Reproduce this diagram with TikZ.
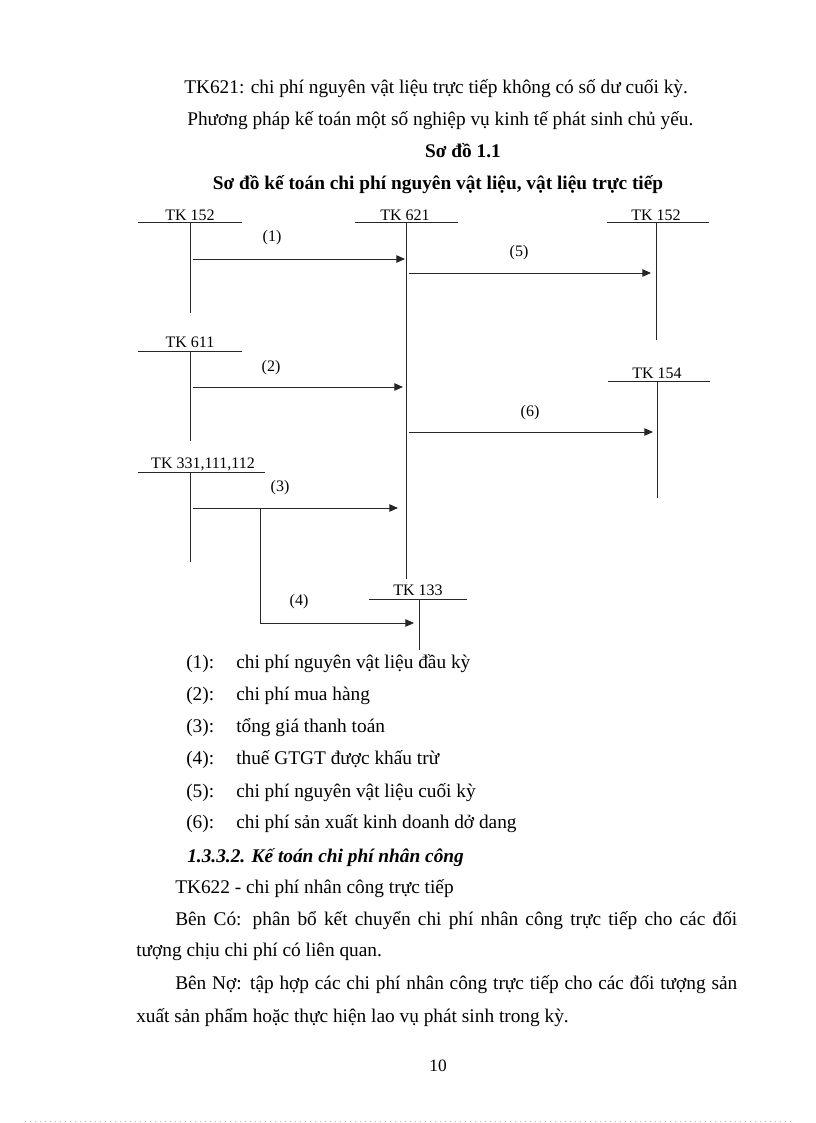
\documentclass[tikz,border=0pt]{standalone}
\usepackage{fontspec}
\setmainfont{Liberation Serif}
\usetikzlibrary{arrows.meta}
\begin{document}
\begin{tikzpicture}[x=0.75pt,y=-0.75pt,
  body/.style={font=\fontsize{14.5}{17}\selectfont, inner sep=0pt, anchor=base west},
  ctr/.style={font=\fontsize{14.5}{17}\selectfont\bfseries, inner sep=0pt, anchor=base},
  lbl/.style={font=\fontsize{12}{14}\selectfont, inner sep=0pt, anchor=base},
  tline/.style={line width=0.75pt, black!85},
  arr/.style={line width=0.75pt, black!85, -{Triangle[length=6.5pt,width=5.6pt]}},
  conn/.style={line width=0.75pt, black!85}]
\useasboundingbox (0,0) rectangle (816,1123);
\fill[white] (0,0) rectangle (816,1123);

% top text
\node[body] (t1) at (184,94) {TK621: chi phí nguyên vật liệu trực tiếp không có số dư cuối kỳ.};
\node[body] (t2) at (187,126) {Phương pháp kế toán một số nghiệp vụ kinh tế phát sinh chủ yếu.};
\node[ctr] (t3) at (463,158) {Sơ đồ 1.1};
\node[ctr] (t4) at (438,190) {Sơ đồ kế toán chi phí nguyên vật liệu, vật liệu trực tiếp};

% T-account labels
\node[lbl] (k152L) at (190,220) {TK 152};
\node[lbl] (k621) at (405,220) {TK 621};
\node[lbl] (k152R) at (656,220) {TK 152};
\node[lbl] (k611) at (190,347) {TK 611};
\node[lbl] (k154) at (657,378) {TK 154};
\node[lbl] (k331) at (203,468) {TK 331,111,112};
\node[lbl] (k133) at (418,595) {TK 133};

% T-account horizontals
\draw[tline] (138,223) -- (242,223);
\draw[tline] (355,223) -- (458,223);
\draw[tline] (607,223) -- (709,223);
\draw[tline] (138,351) -- (242,351);
\draw[tline] (608,381) -- (710,381);
\draw[tline] (138,472) -- (265,472);
\draw[tline] (369,599) -- (467,599);

% T-account verticals
\coordinate (v152La) at (190,223); \coordinate (v152Lb) at (190,313);
\coordinate (v621a) at (406,223); \coordinate (v621b) at (406,579);
\coordinate (v152Ra) at (656,223); \coordinate (v152Rb) at (656,340);
\coordinate (v611a) at (190,351); \coordinate (v611b) at (190,441);
\coordinate (v154a) at (657,381); \coordinate (v154b) at (657,498);
\coordinate (v331a) at (190,472); \coordinate (v331b) at (190,562);
\coordinate (v133a) at (419,599); \coordinate (v133b) at (419,650);
\draw[tline] (v152La) -- (v152Lb);
\draw[tline] (v621a) -- (v621b);
\draw[tline] (v152Ra) -- (v152Rb);
\draw[tline] (v611a) -- (v611b);
\draw[tline] (v154a) -- (v154b);
\draw[tline] (v331a) -- (v331b);
\draw[tline] (v133a) -- (v133b);

% arrows
\coordinate (s1) at (193,259); \coordinate (e1) at (405,259);
\coordinate (s5) at (409,273); \coordinate (e5) at (651,273);
\coordinate (s2) at (193,387); \coordinate (e2) at (403,387);
\coordinate (s6) at (409,432); \coordinate (e6) at (653,432);
\coordinate (s3) at (193,508); \coordinate (e3) at (398,508);
\coordinate (b4) at (260,508); \coordinate (s4) at (260,623); \coordinate (e4) at (414,623);
\draw[arr] (s1) -- (e1);
\draw[arr] (s5) -- (e5);
\draw[arr] (s2) -- (e2);
\draw[arr] (s6) -- (e6);
\draw[arr] (s3) -- (e3);
\draw[conn] (b4) -- (s4);
\draw[arr] (s4) -- (e4);

\node[lbl] (l1) at (272,242) {(1)};
\node[lbl] (l5) at (519,257) {(5)};
\node[lbl] (l2) at (271,371) {(2)};
\node[lbl] (l6) at (530,416) {(6)};
\node[lbl] (l3) at (280,491) {(3)};
\node[lbl] (l4) at (299,605) {(4)};

% legend
\node[body] (g1) at (186,668) {(1):};
\node[body] (h1) at (236,668) {chi phí nguyên vật liệu đầu kỳ};
\node[body] (g2) at (186,700) {(2):};
\node[body] (h2) at (236,700) {chi phí mua hàng};
\node[body] (g3) at (186,732) {(3):};
\node[body] (h3) at (236,732) {tổng giá thanh toán};
\node[body] (g4) at (186,764) {(4):};
\node[body] (h4) at (236,764) {thuế GTGT được khấu trừ};
\node[body] (g5) at (186,797) {(5):};
\node[body] (h5) at (236,797) {chi phí nguyên vật liệu cuối kỳ};
\node[body] (g6) at (186,828) {(6):};
\node[body] (h6) at (236,828) {chi phí sản xuất kinh doanh dở dang};

% section text
\node[body, font=\fontsize{14.5}{17}\selectfont\bfseries\itshape] (p0) at (187,862) {1.3.3.2. Kế toán chi phí nhân công};
\node[body] (p1) at (175,893) {TK622 - chi phí nhân công trực tiếp};
\node[body] (p2) at (175,925) {\makebox[421.5pt][s]{Bên Có: phân bổ kết chuyển chi phí nhân công trực tiếp cho các đối}};
\node[body] (p3) at (136,956) {tượng chịu chi phí có liên quan.};
\node[body] (p4) at (175,989) {\makebox[421.5pt][s]{Bên Nợ: tập hợp các chi phí nhân công trực tiếp cho các đối tượng sản}};
\node[body] (p5) at (136,1022) {xuất sản phẩm hoặc thực hiện lao vụ phát sinh trong kỳ.};

\node[lbl, font=\fontsize{13}{15}\selectfont] (pg) at (438,1071) {10};

\draw[black!30, line width=0.75pt, dash pattern=on 0.75pt off 3pt] (25,1121) -- (792,1121);
\end{tikzpicture}
\end{document}
